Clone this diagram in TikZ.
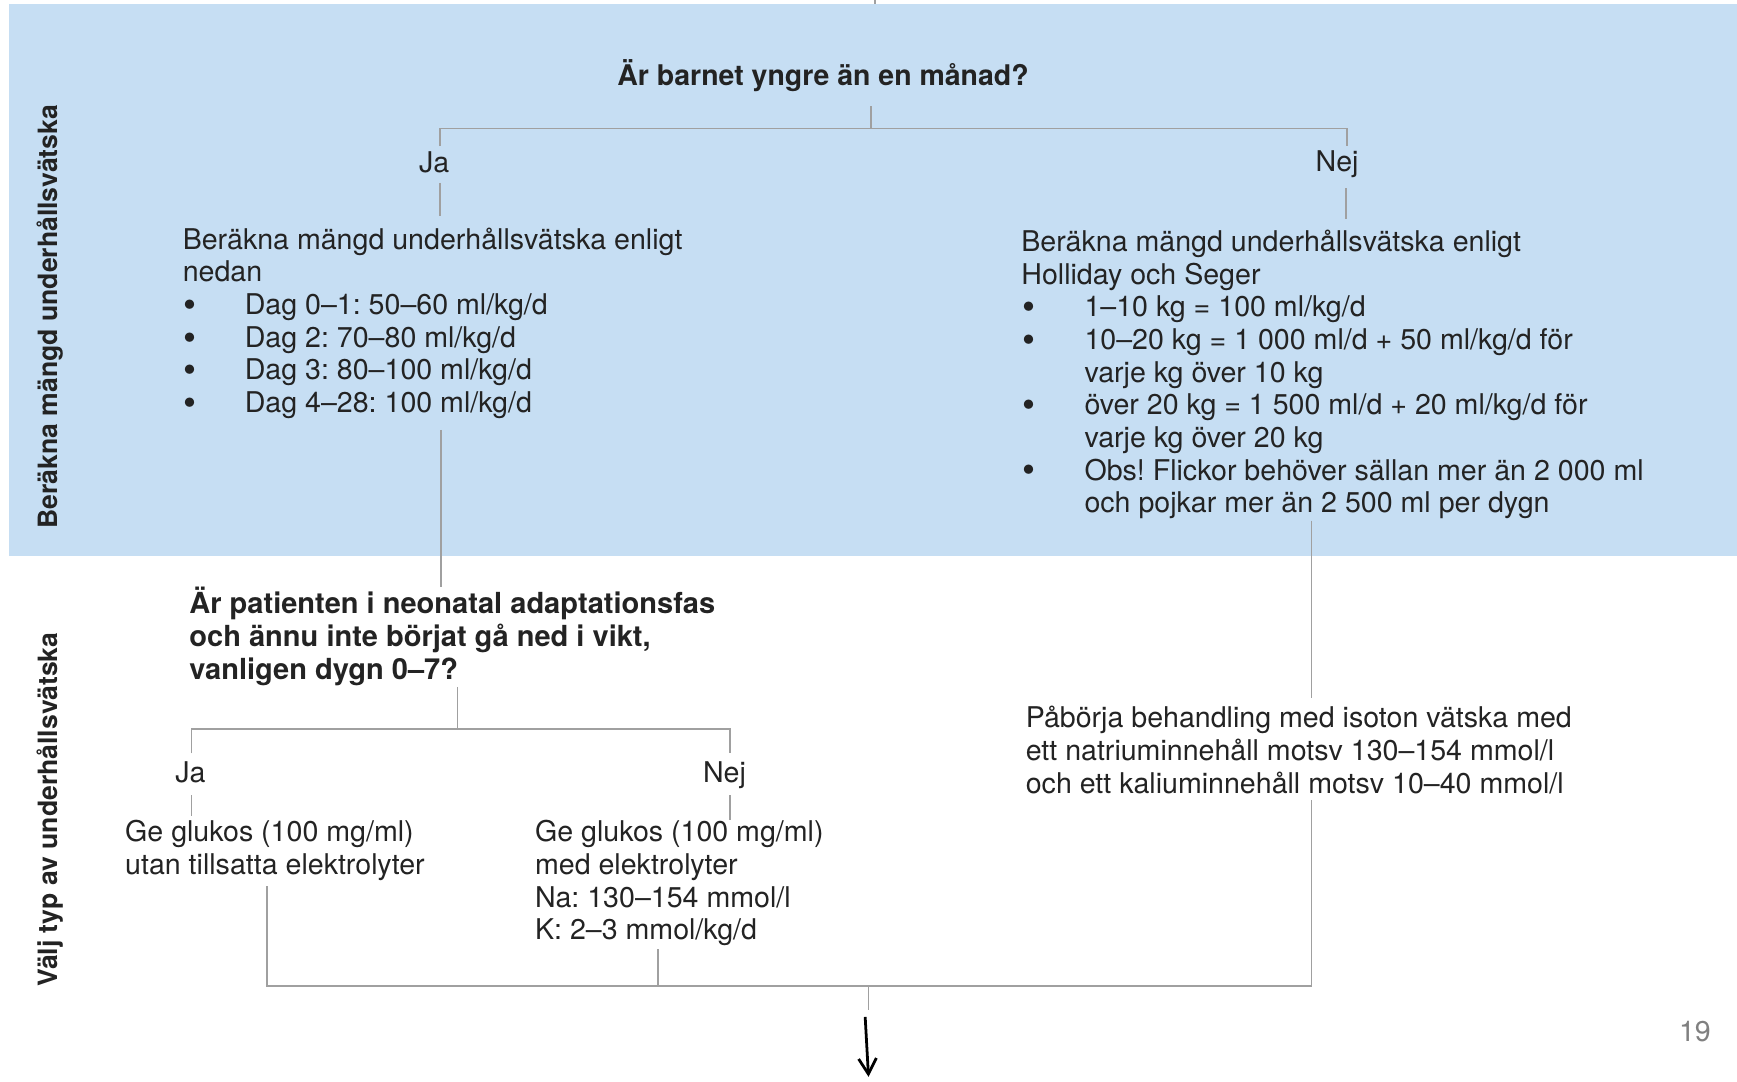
\documentclass[tikz,border=0pt]{standalone}
\usepackage{fontspec}
\setmainfont{TeX Gyre Heros}
\usetikzlibrary{arrows.meta}
\frenchspacing
\definecolor{bandblue}{RGB}{198,222,243}
\definecolor{linegray}{RGB}{160,160,160}
\definecolor{txt}{RGB}{35,35,35}
\newcommand\bulA{\makebox[56pt][l]{\hspace*{1pt}\raisebox{-2.5pt}{\scalebox{1.3}{•}}}}
\newcommand\bulB{\makebox[57pt][l]{\hspace*{1pt}\raisebox{-2.5pt}{\scalebox{1.3}{•}}}}
\begin{document}
\begin{tikzpicture}[x=1pt,y=-1pt,
  every node/.style={inner sep=0pt,outer sep=0pt,text=txt},
  txtfont/.style={font=\fontsize{25.8}{29.5}\selectfont},
  block/.style={txtfont,align=left,anchor=north west},
  bblock/.style={block,font=\fontsize{26.2}{29.5}\selectfont\bfseries},
  single/.style={txtfont,anchor=base},
  side/.style={font=\fontsize{24}{28}\selectfont\bfseries,rotate=90,anchor=center},
  conn/.style={draw=linegray,line width=1.5pt},
  bigarrow/.style={draw=black,line width=2.5pt,-{Straight Barb[length=14pt,width=16pt,line width=2.5pt]}}]
\useasboundingbox (0,0) rectangle (1568,976);
\fill[bandblue] (8,4) rectangle (1568,502);

% side labels
\node[side] (s1) at (45,286) {Beräkna mängd underhållsvätska};
\node[side] (s2) at (45,731) {Välj typ av underhållsvätska};

% question 1
\node[single,font=\fontsize{25.7}{29.5}\selectfont\bfseries] (q1) at (743,77) {Är barnet yngre än en månad?};
\node[single] (ja1) at (392,156) {Ja};
\node[single] (nej1) at (1207,155) {Nej};

\node[block] (lb) at (165,204.35) {\strut Beräkna mängd underhållsvätska enligt\\
\strut nedan\\
\strut\bulA Dag 0–1: 50–60 ml/kg/d\\
\strut\bulA Dag 2: 70–80 ml/kg/d\\
\strut\bulA Dag 3: 80–100 ml/kg/d\\
\strut\bulA Dag 4–28: 100 ml/kg/d};

\node[block] (rb) at (922,206.35) {\strut Beräkna mängd underhållsvätska enligt\\
\strut Holliday och Seger\\
\strut\bulB 1–10 kg = 100 ml/kg/d\\
\strut\bulB 10–20 kg = 1 000 ml/d + 50 ml/kg/d för\\
\strut\hspace*{57pt}varje kg över 10 kg\\
\strut\bulB över 20 kg = 1 500 ml/d + 20 ml/kg/d för\\
\strut\hspace*{57pt}varje kg över 20 kg\\
\strut\bulB Obs! Flickor behöver sällan mer än 2 000 ml\\
\strut\hspace*{57pt}och pojkar mer än 2 500 ml per dygn};

% question 2
\node[bblock] (q2) at (171,530.35) {\strut Är patienten i neonatal adaptationsfas\\
\strut och ännu inte börjat gå ned i vikt,\\
\strut vanligen dygn 0–7?};
\node[single] (ja2) at (172,706) {Ja};
\node[single] (nej2) at (654,706) {Nej};

\node[block] (g1) at (113,739.35) {\strut Ge glukos (100 mg/ml)\\
\strut utan tillsatta elektrolyter};
\node[block] (g2) at (483,739.35) {\strut Ge glukos (100 mg/ml)\\
\strut med elektrolyter\\
\strut Na: 130–154 mmol/l\\
\strut K: 2–3 mmol/kg/d};
\node[block] (iso) at (926,636.35) {\strut Påbörja behandling med isoton vätska med\\
\strut ett natriuminnehåll motsv 130–154 mmol/l\\
\strut och ett kaliuminnehåll motsv 10–40 mmol/l};

\node[single,text=linegray!80!black] (pg) at (1530,940) {19};

% connector coordinates
\coordinate (in0) at (790,0);   \coordinate (in1) at (790,4);
\coordinate (a0) at (786,96);   \coordinate (a1) at (786,116);
\coordinate (aL) at (397,116);  \coordinate (aR) at (1216,116);
\coordinate (aL1) at (397,132); \coordinate (aR1) at (1216,132);
\coordinate (b0) at (397,165);  \coordinate (b1) at (397,195);
\coordinate (c0) at (1215,170); \coordinate (c1) at (1215,198);
\coordinate (d0) at (398,388);  \coordinate (d1) at (398,530);
\coordinate (e0) at (1184,470); \coordinate (e1) at (1184,630);
\coordinate (f0) at (413,620);  \coordinate (f1) at (413,658);
\coordinate (fL) at (173,658);  \coordinate (fR) at (659,658);
\coordinate (fL1) at (173,680); \coordinate (fR1) at (659,680);
\coordinate (h0) at (173,718);  \coordinate (h1) at (173,737);
\coordinate (i0) at (659,718);  \coordinate (i1) at (659,740);
\coordinate (j0) at (1184,722); \coordinate (j1) at (1184,890);
\coordinate (k0) at (241,800);  \coordinate (k1) at (241,890);
\coordinate (l0) at (594,857);  \coordinate (l1) at (594,890);
\coordinate (m0) at (784,890);  \coordinate (m1) at (784,912);
\coordinate (n0) at (781,918);  \coordinate (n1) at (784,972);

\draw[conn] (in0) -- (in1);
\draw[conn] (a0) -- (a1);
\draw[conn] (aL1) -- (aL) -- (aR) -- (aR1);
\draw[conn] (b0) -- (b1);
\draw[conn] (c0) -- (c1);
\draw[conn] (d0) -- (d1);
\draw[conn] (e0) -- (e1);
\draw[conn] (f0) -- (f1);
\draw[conn] (fL1) -- (fL) -- (fR) -- (fR1);
\draw[conn] (h0) -- (h1);
\draw[conn] (i0) -- (i1);
\draw[conn] (j0) -- (j1);
\draw[conn] (k0) -- (k1) -- (j1);
\draw[conn] (l0) -- (l1);
\draw[conn] (m0) -- (m1);
\draw[bigarrow] (n0) -- (n1);
\end{tikzpicture}
\end{document}
